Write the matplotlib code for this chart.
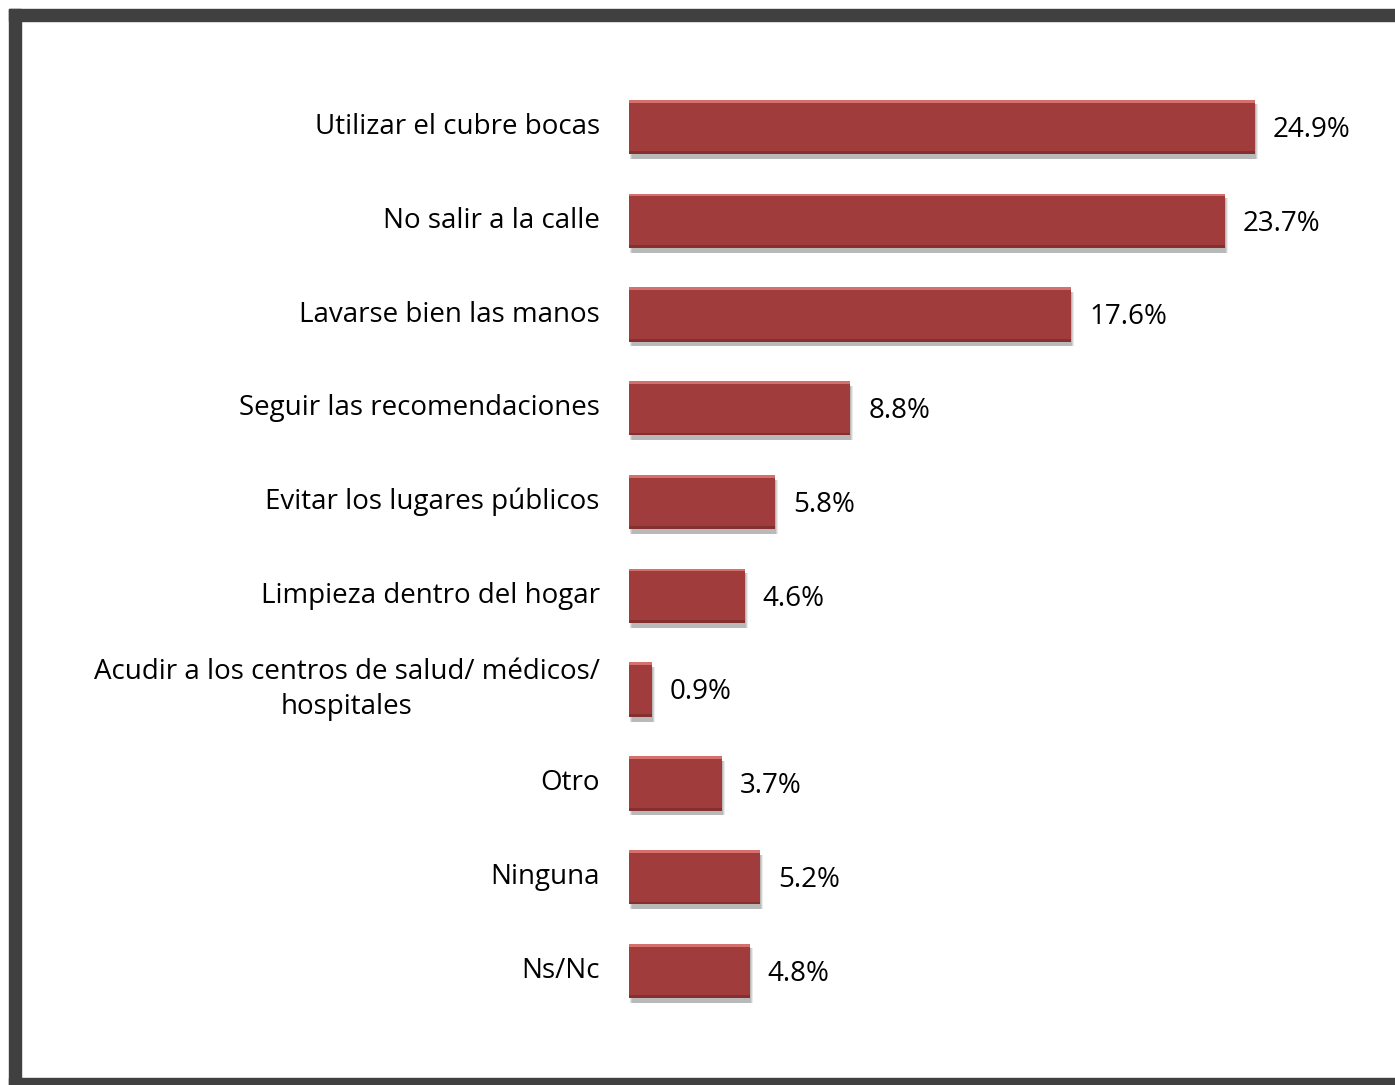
import matplotlib.pyplot as plt
import matplotlib.patches as mpatches

plt.rcParams['font.family'] = ['Open Sans', 'DejaVu Sans']

# Data
categories = [
    "Utilizar el cubre bocas",
    "No salir a la calle",
    "Lavarse bien las manos",
    "Seguir las recomendaciones",
    "Evitar los lugares públicos",
    "Limpieza dentro del hogar",
    "Acudir a los centros de salud/ médicos/\nhospitales",
    "Otro",
    "Ninguna",
    "Ns/Nc",
]
values = [24.9, 23.7, 17.6, 8.8, 5.8, 4.6, 0.9, 3.7, 5.2, 4.8]
value_labels = [f"{v:.1f}%" for v in values]

bar_color = '#A03D3C'
ypos = list(range(len(categories)))

fig = plt.figure(figsize=(13.95, 10.85), dpi=100)

# dark frame around the chart (cut off on the right side)
fig.patches.append(mpatches.Rectangle((9 / 1395, 0), 12 / 1395, 1 - 9 / 1085,
                                      transform=fig.transFigure, color='#404040'))
fig.patches.append(mpatches.Rectangle((9 / 1395, 1 - 21 / 1085), 1, 12 / 1085,
                                      transform=fig.transFigure, color='#404040'))
fig.patches.append(mpatches.Rectangle((9 / 1395, 0), 1, 7 / 1085,
                                      transform=fig.transFigure, color='#404040'))

ax = fig.add_axes([629 / 1395, 0.0619, 766 / 1395, 0.8643])

# soft shadow under the bars
for dx, alpha in [(0.12, 0.08), (0.08, 0.10), (0.04, 0.12)]:
    ax.barh([y + 0.05 for y in ypos], values, height=0.58, left=dx,
            color='black', alpha=alpha, linewidth=0, zorder=1)

ax.barh(ypos, values, height=0.58, color=bar_color, linewidth=0, zorder=2)
# light bevel on top and a darker bottom edge
ax.barh([y - 0.275 for y in ypos], values, height=0.03, color='#D6706C',
        linewidth=0, zorder=3)
ax.barh([y + 0.275 for y in ypos], values, height=0.03, color='#83302F',
        linewidth=0, zorder=3)

for y, v, lab in zip(ypos, values, value_labels):
    ax.text(v + 0.72, y + 0.03, lab, va='center', ha='left', fontsize=20,
            color='black')

ax.set_xlim(0, 766 / 25.14)
ax.set_ylim(len(categories) - 0.5, -0.5)
ax.set_yticks(ypos)
ax.set_yticklabels(categories, fontsize=20, multialignment='center',
                   linespacing=1.35)
ax.tick_params(axis='y', length=0, pad=21)
for lbl in ax.get_yticklabels():
    lbl.set_verticalalignment('center')
ax.set_xticks([])
for s in ax.spines.values():
    s.set_visible(False)

fig.savefig('out.png', dpi=100)
